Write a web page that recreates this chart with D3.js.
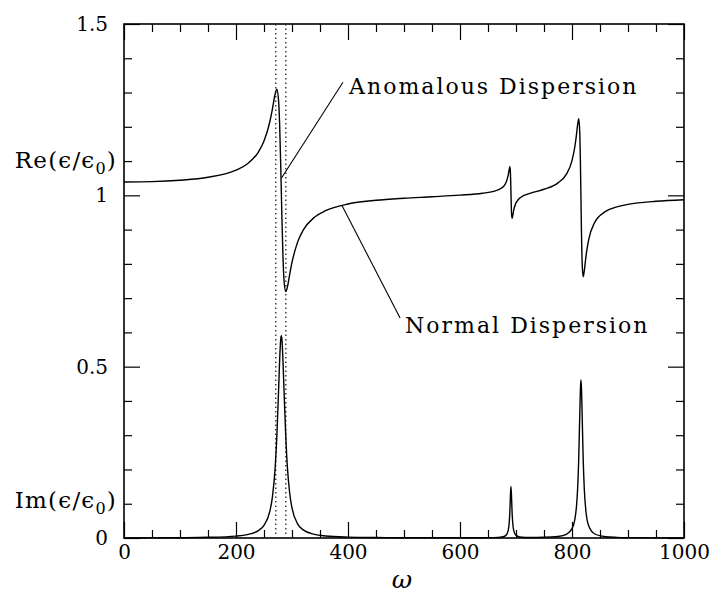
<!DOCTYPE html>
<html>
<head>
<meta charset="utf-8">
<script src="https://cdn.jsdelivr.net/npm/d3@7"></script>
<style>
  html, body { margin: 0; padding: 0; background: #fff; overflow: hidden; }
  svg { display: block; overflow: visible; }
  text { font-family: "DejaVu Serif", serif; fill: #000; }
</style>
</head>
<body>
<svg id="chart"></svg>
<script>
// frequency samples (denser around the resonances)
const omega = [0, 50, 100, 150, 200, 220, 240, 250, 260, 265, 270, 273, 276, 278, 280, 281, 282, 284, 286, 289,
  292, 296, 300, 310, 320, 340, 360, 400, 450, 500, 550, 600, 640, 660, 675, 682, 686, 688, 689, 690,
  691, 692, 693, 694, 696, 700, 710, 725, 750, 775, 790, 800, 805, 808, 810, 812, 814, 815, 816, 817,
  818, 820, 822, 825, 830, 840, 860, 880, 900, 950, 1000];

// Re(eps/eps0)
const reEps = [1.039, 1.040, 1.044, 1.0526, 1.0734, 1.0915, 1.1263, 1.1582, 1.2119, 1.2518, 1.2963, 1.3097, 1.2771, 1.2029, 1.079, 1.0062, 0.9337, 0.8148, 0.7465, 0.7191,
  0.7344, 0.7704, 0.8042, 0.8635, 0.8984, 0.9359, 0.9551, 0.9747, 0.9855, 0.9915, 0.9958, 1.0005, 1.006, 1.0115, 1.022, 1.037, 1.058, 1.0764, 1.0832, 1.0681,
  1.008, 0.9481, 0.9332, 0.9389, 0.9573, 0.978, 0.9958, 1.0059, 1.0177, 1.0363, 1.0618, 1.1015, 1.1411, 1.1774, 1.2058, 1.2234, 1.1767, 1.1004, 0.9918, 0.8835,
  0.808, 0.7625, 0.7803, 0.8228, 0.872, 0.9194, 0.953, 0.9662, 0.9737, 0.9828, 0.9873];

// Im(eps/eps0)
const imEps = [0, 0.0004, 0.0009, 0.002, 0.0056, 0.0099, 0.0216, 0.037, 0.0754, 0.1193, 0.2069, 0.2993, 0.4298, 0.5222, 0.5829, 0.5901, 0.5791, 0.5126, 0.4189, 0.2909,
  0.2013, 0.1291, 0.0879, 0.0413, 0.0236, 0.0105, 0.0059, 0.0026, 0.0013, 0.0008, 0.0006, 0.0005, 0.0007, 0.0011, 0.0029, 0.0077, 0.0213, 0.0469, 0.0758, 0.1208,
  0.1507, 0.1206, 0.0755, 0.0467, 0.0213, 0.0078, 0.0023, 0.0015, 0.002, 0.0045, 0.0107, 0.0272, 0.0539, 0.0924, 0.1421, 0.231, 0.3694, 0.4343, 0.4609, 0.4333,
  0.3681, 0.2299, 0.1415, 0.0759, 0.0347, 0.0124, 0.0038, 0.0018, 0.001, 0.0004, 0.0002];

// the two dotted verticals around the first resonance
const markerOmega = [271, 289];

// tick values and labels
const xMajor = [0, 200, 400, 600, 800, 1000];
const xMinor = [50, 100, 150, 250, 300, 350, 450, 500, 550, 650, 700, 750, 850, 900, 950];
const yMajor = [0, 0.5, 1, 1.5];
const yMinor = [0.1, 0.2, 0.3, 0.4, 0.6, 0.7, 0.8, 0.9, 1.1, 1.2, 1.3, 1.4];

// annotations: leader from the curve to the label
const notes = [
  { text: "Anomalous Dispersion", from: [281, 1.05], to: [391, 1.33], textAt: [402, 1.296] },
  { text: "Normal Dispersion", from: [389, 0.971], to: [493, 0.642], textAt: [502, 0.598] }
];

const width = 715, height = 599;
const margin = { top: 24, right: 31, bottom: 61, left: 124 };
const innerWidth = width - margin.left - margin.right;
const innerHeight = height - margin.top - margin.bottom;

const xScale = d3.scaleLinear().domain([0, 1000]).range([0, innerWidth]);
const yScale = d3.scaleLinear().domain([0, 1.5]).range([innerHeight, 0]);

const svg = d3.select("#chart")
  .attr("width", width)
  .attr("height", height);

const inner = svg.append("g")
  .attr("transform", `translate(${margin.left}, ${margin.top})`);

// frame
inner.append("rect")
  .attr("width", innerWidth)
  .attr("height", innerHeight)
  .attr("fill", "none")
  .attr("stroke", "#000")
  .attr("stroke-width", 1.6);

// axes: ticks point inward on all four sides
function styleAxis(g) {
  g.select(".domain").remove();
  g.selectAll(".tick line").attr("stroke", "#000").attr("stroke-width", 1.2);
  g.selectAll(".tick text")
    .filter(function () { return !this.textContent; })
    .remove();
  g.selectAll(".tick text")
    .attr("font-family", "DejaVu Serif")
    .attr("font-size", 20)
    .attr("fill", "#000");
}

inner.append("g")
  .attr("transform", `translate(0, ${innerHeight})`)
  .call(d3.axisBottom(xScale).tickValues(xMajor).tickSize(-16).tickPadding(7).tickFormat(d3.format("d")))
  .call(styleAxis);
inner.append("g")
  .attr("transform", `translate(0, ${innerHeight})`)
  .call(d3.axisBottom(xScale).tickValues(xMinor).tickSize(-8).tickFormat(""))
  .call(styleAxis);
inner.append("g")
  .call(d3.axisTop(xScale).tickValues(xMajor).tickSize(-16).tickFormat(""))
  .call(styleAxis);
inner.append("g")
  .call(d3.axisTop(xScale).tickValues(xMinor).tickSize(-8).tickFormat(""))
  .call(styleAxis);

inner.append("g")
  .call(d3.axisLeft(yScale).tickValues(yMajor).tickSize(-16).tickPadding(16).tickFormat(d => d))
  .call(styleAxis);
inner.append("g")
  .call(d3.axisLeft(yScale).tickValues(yMinor).tickSize(-8).tickFormat(""))
  .call(styleAxis);
inner.append("g")
  .attr("transform", `translate(${innerWidth}, 0)`)
  .call(d3.axisRight(yScale).tickValues(yMajor).tickSize(-16).tickFormat(""))
  .call(styleAxis);
inner.append("g")
  .attr("transform", `translate(${innerWidth}, 0)`)
  .call(d3.axisRight(yScale).tickValues(yMinor).tickSize(-8).tickFormat(""))
  .call(styleAxis);

// dotted markers
inner.selectAll(".marker")
  .data(markerOmega)
  .join("line")
    .attr("class", "marker")
    .attr("x1", d => xScale(d))
    .attr("x2", d => xScale(d))
    .attr("y1", 0)
    .attr("y2", innerHeight)
    .attr("stroke", "#222")
    .attr("stroke-width", 1.3)
    .attr("stroke-dasharray", "1.5,3");

// curves
const line = d3.line()
  .x(d => xScale(d[0]))
  .y(d => yScale(d[1]))
  .curve(d3.curveMonotoneX);

[reEps, imEps].forEach(series => {
  inner.append("path")
    .datum(omega.map((w, i) => [w, series[i]]))
    .attr("d", line)
    .attr("fill", "none")
    .attr("stroke", "#000")
    .attr("stroke-width", 1.4);
});

// annotation leaders + labels
notes.forEach(n => {
  inner.append("line")
    .attr("x1", xScale(n.from[0])).attr("y1", yScale(n.from[1]))
    .attr("x2", xScale(n.to[0])).attr("y2", yScale(n.to[1]))
    .attr("stroke", "#000")
    .attr("stroke-width", 1.1);
  inner.append("text")
    .attr("x", xScale(n.textAt[0]))
    .attr("y", yScale(n.textAt[1]))
    .attr("font-size", 22)
    .attr("letter-spacing", 2)
    .text(n.text);
});

// y labels
const yLabels = [
  { main: "Re(ϵ/ϵ", y: 1.08 },
  { main: "Im(ϵ/ϵ", y: 0.087 }
];
yLabels.forEach(l => {
  const t = svg.append("text")
    .attr("x", 117)
    .attr("y", margin.top + yScale(l.y))
    .attr("text-anchor", "end")
    .attr("font-size", 23)
    .attr("letter-spacing", 1.2);
  t.append("tspan").text(l.main);
  t.append("tspan").attr("font-size", 16).attr("dy", 6).text("0");
  t.append("tspan").attr("dy", -6).text(")");
});

// x label
svg.append("text")
  .attr("x", margin.left + innerWidth / 2 - 2)
  .attr("y", height - 11)
  .attr("text-anchor", "middle")
  .attr("font-size", 25)
  .attr("font-style", "italic")
  .text("ω");
</script>
</body>
</html>
